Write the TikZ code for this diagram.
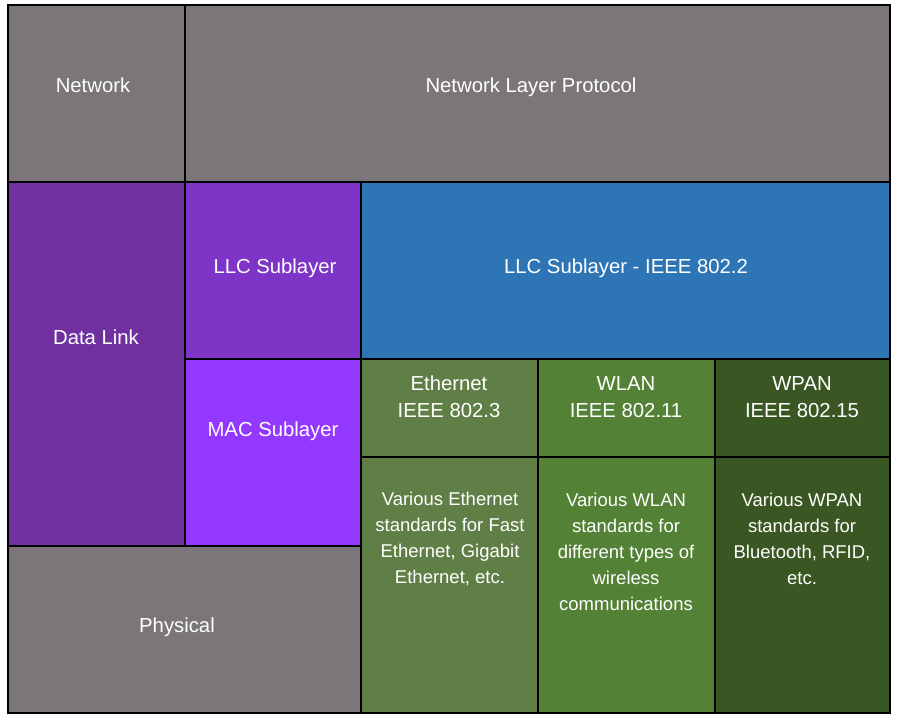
\documentclass[tikz,border=0pt]{standalone}
\usepackage{fontspec}
\setmainfont{Liberation Sans}
\definecolor{layergray}{HTML}{7A7679}
\definecolor{dlpurple}{HTML}{7030A0}
\definecolor{llcpurple}{HTML}{7E34C6}
\definecolor{macpurple}{HTML}{9338FF}
\definecolor{llcblue}{HTML}{2E75B6}
\definecolor{ethgreen}{HTML}{5F7F47}
\definecolor{wlangreen}{HTML}{538135}
\definecolor{wpangreen}{HTML}{3A5623}
\tikzset{
  cell/.style={draw=black, line width=1.6pt, inner sep=0pt, outer sep=0pt},
  lbl/.style={text=white, align=center, inner sep=0pt,
    font=\fontsize{20.3}{27}\selectfont},
  smalllbl/.style={lbl, font=\fontsize{18.5}{26}\selectfont},
}
% box: name, left, top, right, bottom, fill colour
\newcommand\layerbox[6]{%
  \node[cell, fill=#6, minimum width={(#4-#2)*1pt}, minimum height={(#5-#3)*1pt}]
    (#1) at ({(#2+#4)/2},{(#3+#5)/2}) {};}
\begin{document}
\begin{tikzpicture}[x=1pt,y=-1pt]
\useasboundingbox (0,0) rectangle (899,721);
\fill[white] (0,0) rectangle (899,721);
\layerbox{net}{8}{5}{185}{182}{layergray}
\layerbox{nlp}{185}{5}{890}{182}{layergray}
\layerbox{dl}{8}{182}{185}{546}{dlpurple}
\layerbox{llc}{185}{182}{361}{359}{llcpurple}
\layerbox{llcieee}{361}{182}{890}{359}{llcblue}
\layerbox{mac}{185}{359}{361}{546}{macpurple}
\layerbox{eth}{361}{359}{538}{457}{ethgreen}
\layerbox{wlan}{538}{359}{715}{457}{wlangreen}
\layerbox{wpan}{715}{359}{890}{457}{wpangreen}
\layerbox{ethstd}{361}{457}{538}{713}{ethgreen}
\layerbox{wlanstd}{538}{457}{715}{713}{wlangreen}
\layerbox{wpanstd}{715}{457}{890}{713}{wpangreen}
\layerbox{phy}{8}{546}{361}{713}{layergray}
% labels
\node[lbl, anchor=base] (tnet) at (93,92) {Network};
\node[lbl, anchor=base] (tnlp) at (531,92) {Network Layer Protocol};
\node[lbl, anchor=base] (tdl) at (96,344) {Data Link};
\node[lbl, anchor=base] (tllc) at (275,273) {LLC Sublayer};
\node[lbl, anchor=base] (tllcieee) at (626,273) {LLC Sublayer - IEEE 802.2};
\node[lbl, anchor=base] (tmac) at (273,436) {MAC Sublayer};
\node[lbl, anchor=base] (tphy) at (177,632) {Physical};
\node[lbl] (teth) at (449,397) {Ethernet\\IEEE 802.3};
\node[lbl] (twlan) at (626,397) {WLAN\\IEEE 802.11};
\node[lbl] (twpan) at (802,397) {WPAN\\IEEE 802.15};
\node[smalllbl] (tethstd) at (450,539) {Various Ethernet\\standards for Fast\\Ethernet, Gigabit\\Ethernet, etc.};
\node[smalllbl] (twlanstd) at (626,552) {Various WLAN\\standards for\\different types of\\wireless\\communications};
\node[smalllbl] (twpanstd) at (802,539) {Various WPAN\\standards for\\Bluetooth, RFID,\\etc.};
\end{tikzpicture}
\end{document}
